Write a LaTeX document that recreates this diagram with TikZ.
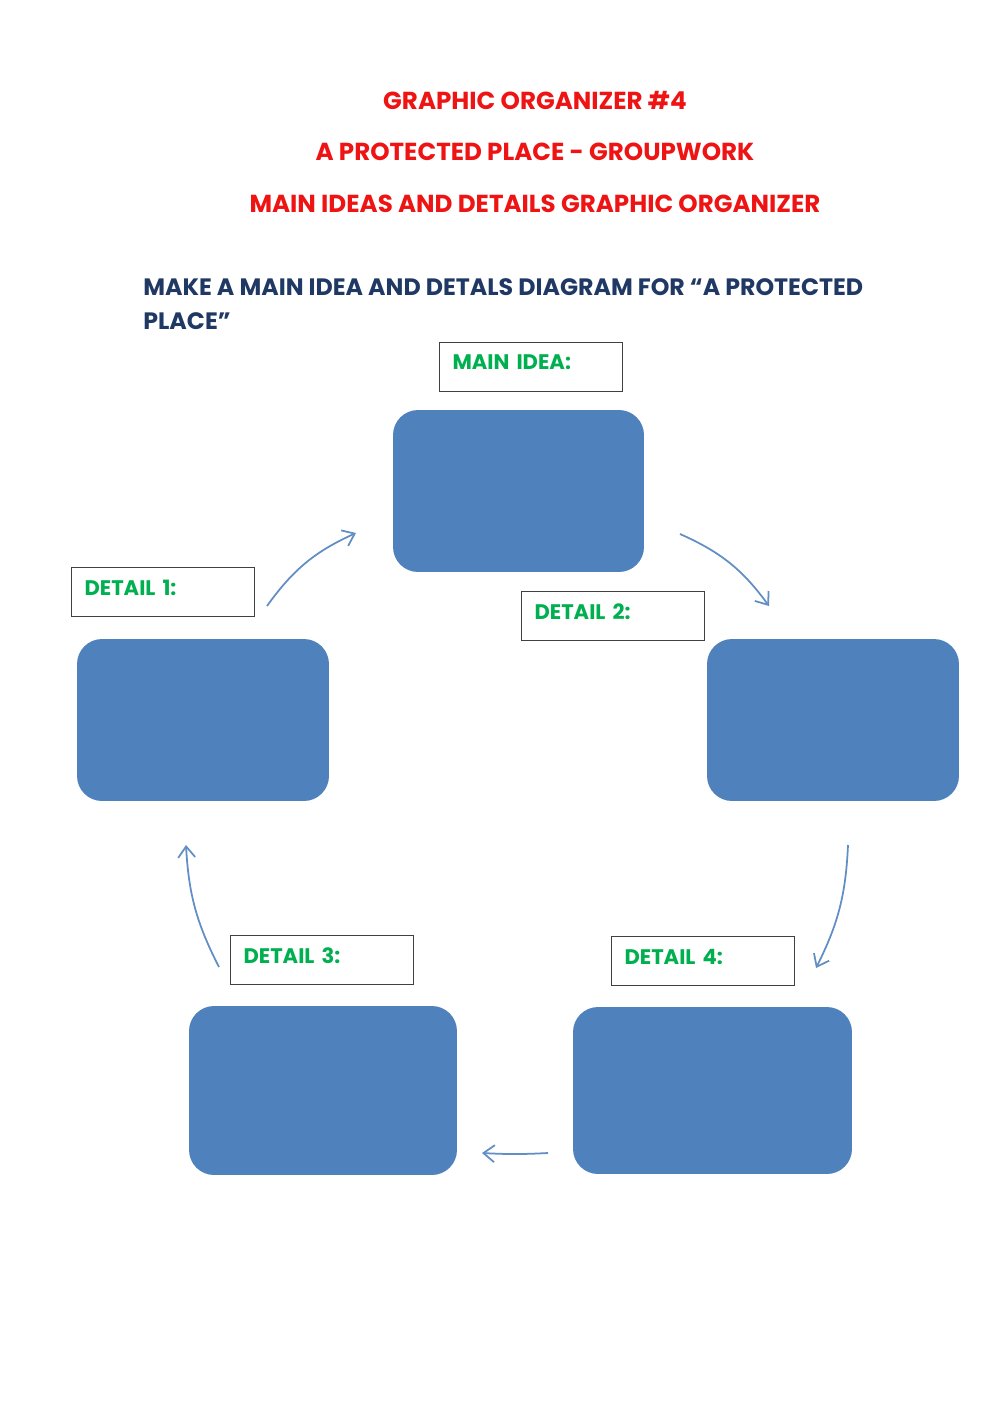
\documentclass[tikz,border=0pt]{standalone}
\usepackage{fontspec}
\setmainfont{Poppins}
\usepackage{xcolor}
\definecolor{titlered}{RGB}{238,20,20}
\definecolor{navyblue}{RGB}{31,56,100}
\definecolor{labelgreen}{RGB}{0,176,80}
\definecolor{boxblue}{RGB}{79,129,189}
\usepackage{tikz}
\usetikzlibrary{arrows.meta,positioning}

\begin{document}
\begin{tikzpicture}[x=0.02cm, y=-0.02cm, >={Straight Barb[length=2.2mm,width=3.4mm]},
    title/.style={text=titlered, font=\bfseries\fontsize{14}{16}\selectfont},
    bluebox/.style={fill=boxblue, rounded corners=0.5cm, inner sep=0pt},
    labelbox/.style={draw=black!75, line width=0.6pt, anchor=north west, minimum width=3.66cm, minimum height=0.98cm,
      text width=3.14cm, inner xsep=0.26cm, text depth=0.18cm, align=left, text=labelgreen, font=\bfseries\fontsize{12}{14}\selectfont},
    flow/.style={->, draw=boxblue!90, line width=1pt}]
  \useasboundingbox (0,0) rectangle (1000,1413);
  % titles
  \node[title] (t1) at (535,100) {GRAPHIC ORGANIZER \#4};
  \node[title] (t2) at (535,152) {A PROTECTED PLACE - GROUPWORK};
  \node[title] (t3) at (535,204) {MAIN IDEAS AND DETAILS GRAPHIC ORGANIZER};
  \node[anchor=north west, text=navyblue, font=\bfseries\fontsize{13.5}{19.4}\selectfont, align=left, inner sep=0pt]
    (task) at (143,278) {MAKE A MAIN IDEA AND DETALS DIAGRAM FOR “A PROTECTED\\PLACE”};
  % boxes
  \node[bluebox, minimum width=5.02cm, minimum height=3.24cm] (idea) at (518.5,491) {};
  \node[bluebox, minimum width=5.04cm, minimum height=3.24cm] (det2) at (833,720) {};
  \node[bluebox, minimum width=5.04cm, minimum height=3.24cm] (det1) at (203,720) {};
  \node[bluebox, minimum width=5.36cm, minimum height=3.38cm] (det3) at (323,1090.5) {};
  \node[bluebox, minimum width=5.58cm, minimum height=3.34cm] (det4) at (712.5,1090.5) {};
  % labels
  \node[labelbox] (lidea) at (439,342) {MAIN IDEA:};
  \node[labelbox] (ldet1) at (71,567) {DETAIL 1:};
  \node[labelbox] (ldet2) at (521,591) {DETAIL 2:};
  \node[labelbox] (ldet3) at (230,935) {DETAIL 3:};
  \node[labelbox] (ldet4) at (611,936) {DETAIL 4:};
  % arrows
  \coordinate (a1s) at (267,606); \coordinate (a1e) at (356,533);
  \coordinate (a2s) at (680,534); \coordinate (a2e) at (769,606);
  \coordinate (a3s) at (848,845); \coordinate (a3e) at (816,968);
  \coordinate (a4s) at (548,1153); \coordinate (a4e) at (482,1153);
  \coordinate (a5s) at (219,967); \coordinate (a5e) at (186,845);
  \draw[flow] (a1s) to[bend left=15] (a1e);
  \draw[flow] (a2s) to[bend left=15] (a2e);
  \draw[flow] (a3s) to[bend left=12] (a3e);
  \draw[flow] (a4s) to[bend left=3] (a4e);
  \draw[flow] (a5s) to[bend left=12] (a5e);
\end{tikzpicture}
\end{document}
